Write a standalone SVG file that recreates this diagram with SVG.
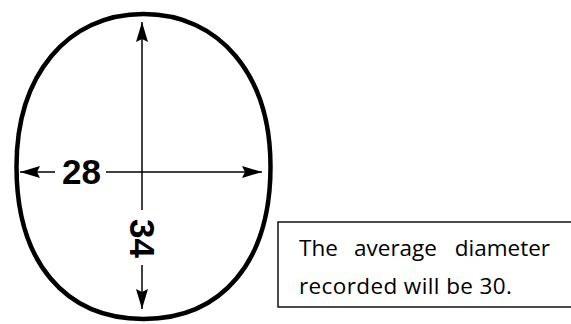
<svg xmlns="http://www.w3.org/2000/svg" width="571" height="324" viewBox="0 0 571 324">
  <style>
    .outline { fill: none; stroke: #000; stroke-width: 4.5; stroke-linejoin: round; }
    .dim { fill: none; stroke: #000; stroke-width: 1.5; marker-end: url(#arrow); }
    .num { font-family: "Liberation Sans", Arial, sans-serif; font-weight: bold; font-size: 35px; fill: #000; }
    .note { font-family: "Open Sans", "Liberation Sans", sans-serif; font-size: 22.5px; fill: #000; }
    .box { fill: #fff; stroke: #000; stroke-width: 1.4; }
  </style>
  <defs>
    <marker id="arrow" viewBox="0 0 20 12" refX="20" refY="6" markerWidth="20" markerHeight="12" markerUnits="userSpaceOnUse" orient="auto">
      <path d="M0,0 L20,6 L0,12 L3,6 Z" fill="#000"/>
    </marker>
  </defs>
  <rect width="571" height="324" fill="#fff"/>

  <g id="head-outline">
    <path class="outline" d="M143.5,14 C219.7,14 270.5,75 270.5,166.5 C270.5,262 222,319 143.5,319 C65,319 16.5,262 16.5,166.5 C16.5,75 67.3,14 143.5,14 Z"/>
  </g>

  <g id="connectors">
    <path class="dim" d="M142,210 L142,22"/>
    <path class="dim" d="M142,265 L142,309"/>
    <path class="dim" d="M55,172 L20,172"/>
    <path class="dim" d="M106,172 L262,172"/>
  </g>

  <g id="label-28">
    <text class="num" x="62" y="183.5">28</text>
  </g>
  <g id="label-34">
    <text class="num" transform="translate(130,238.5) rotate(90)" x="0" y="0" text-anchor="middle">34</text>
  </g>

  <g id="note-box">
    <rect class="box" x="278" y="222" width="300" height="85"/>
    <text class="note" x="299" y="256">The</text>
    <text class="note" x="354" y="256">average</text>
    <text class="note" x="550" y="256" text-anchor="end">diameter</text>
    <text class="note" x="299" y="294" textLength="213" lengthAdjust="spacing">recorded will be 30.</text>
  </g>
</svg>
